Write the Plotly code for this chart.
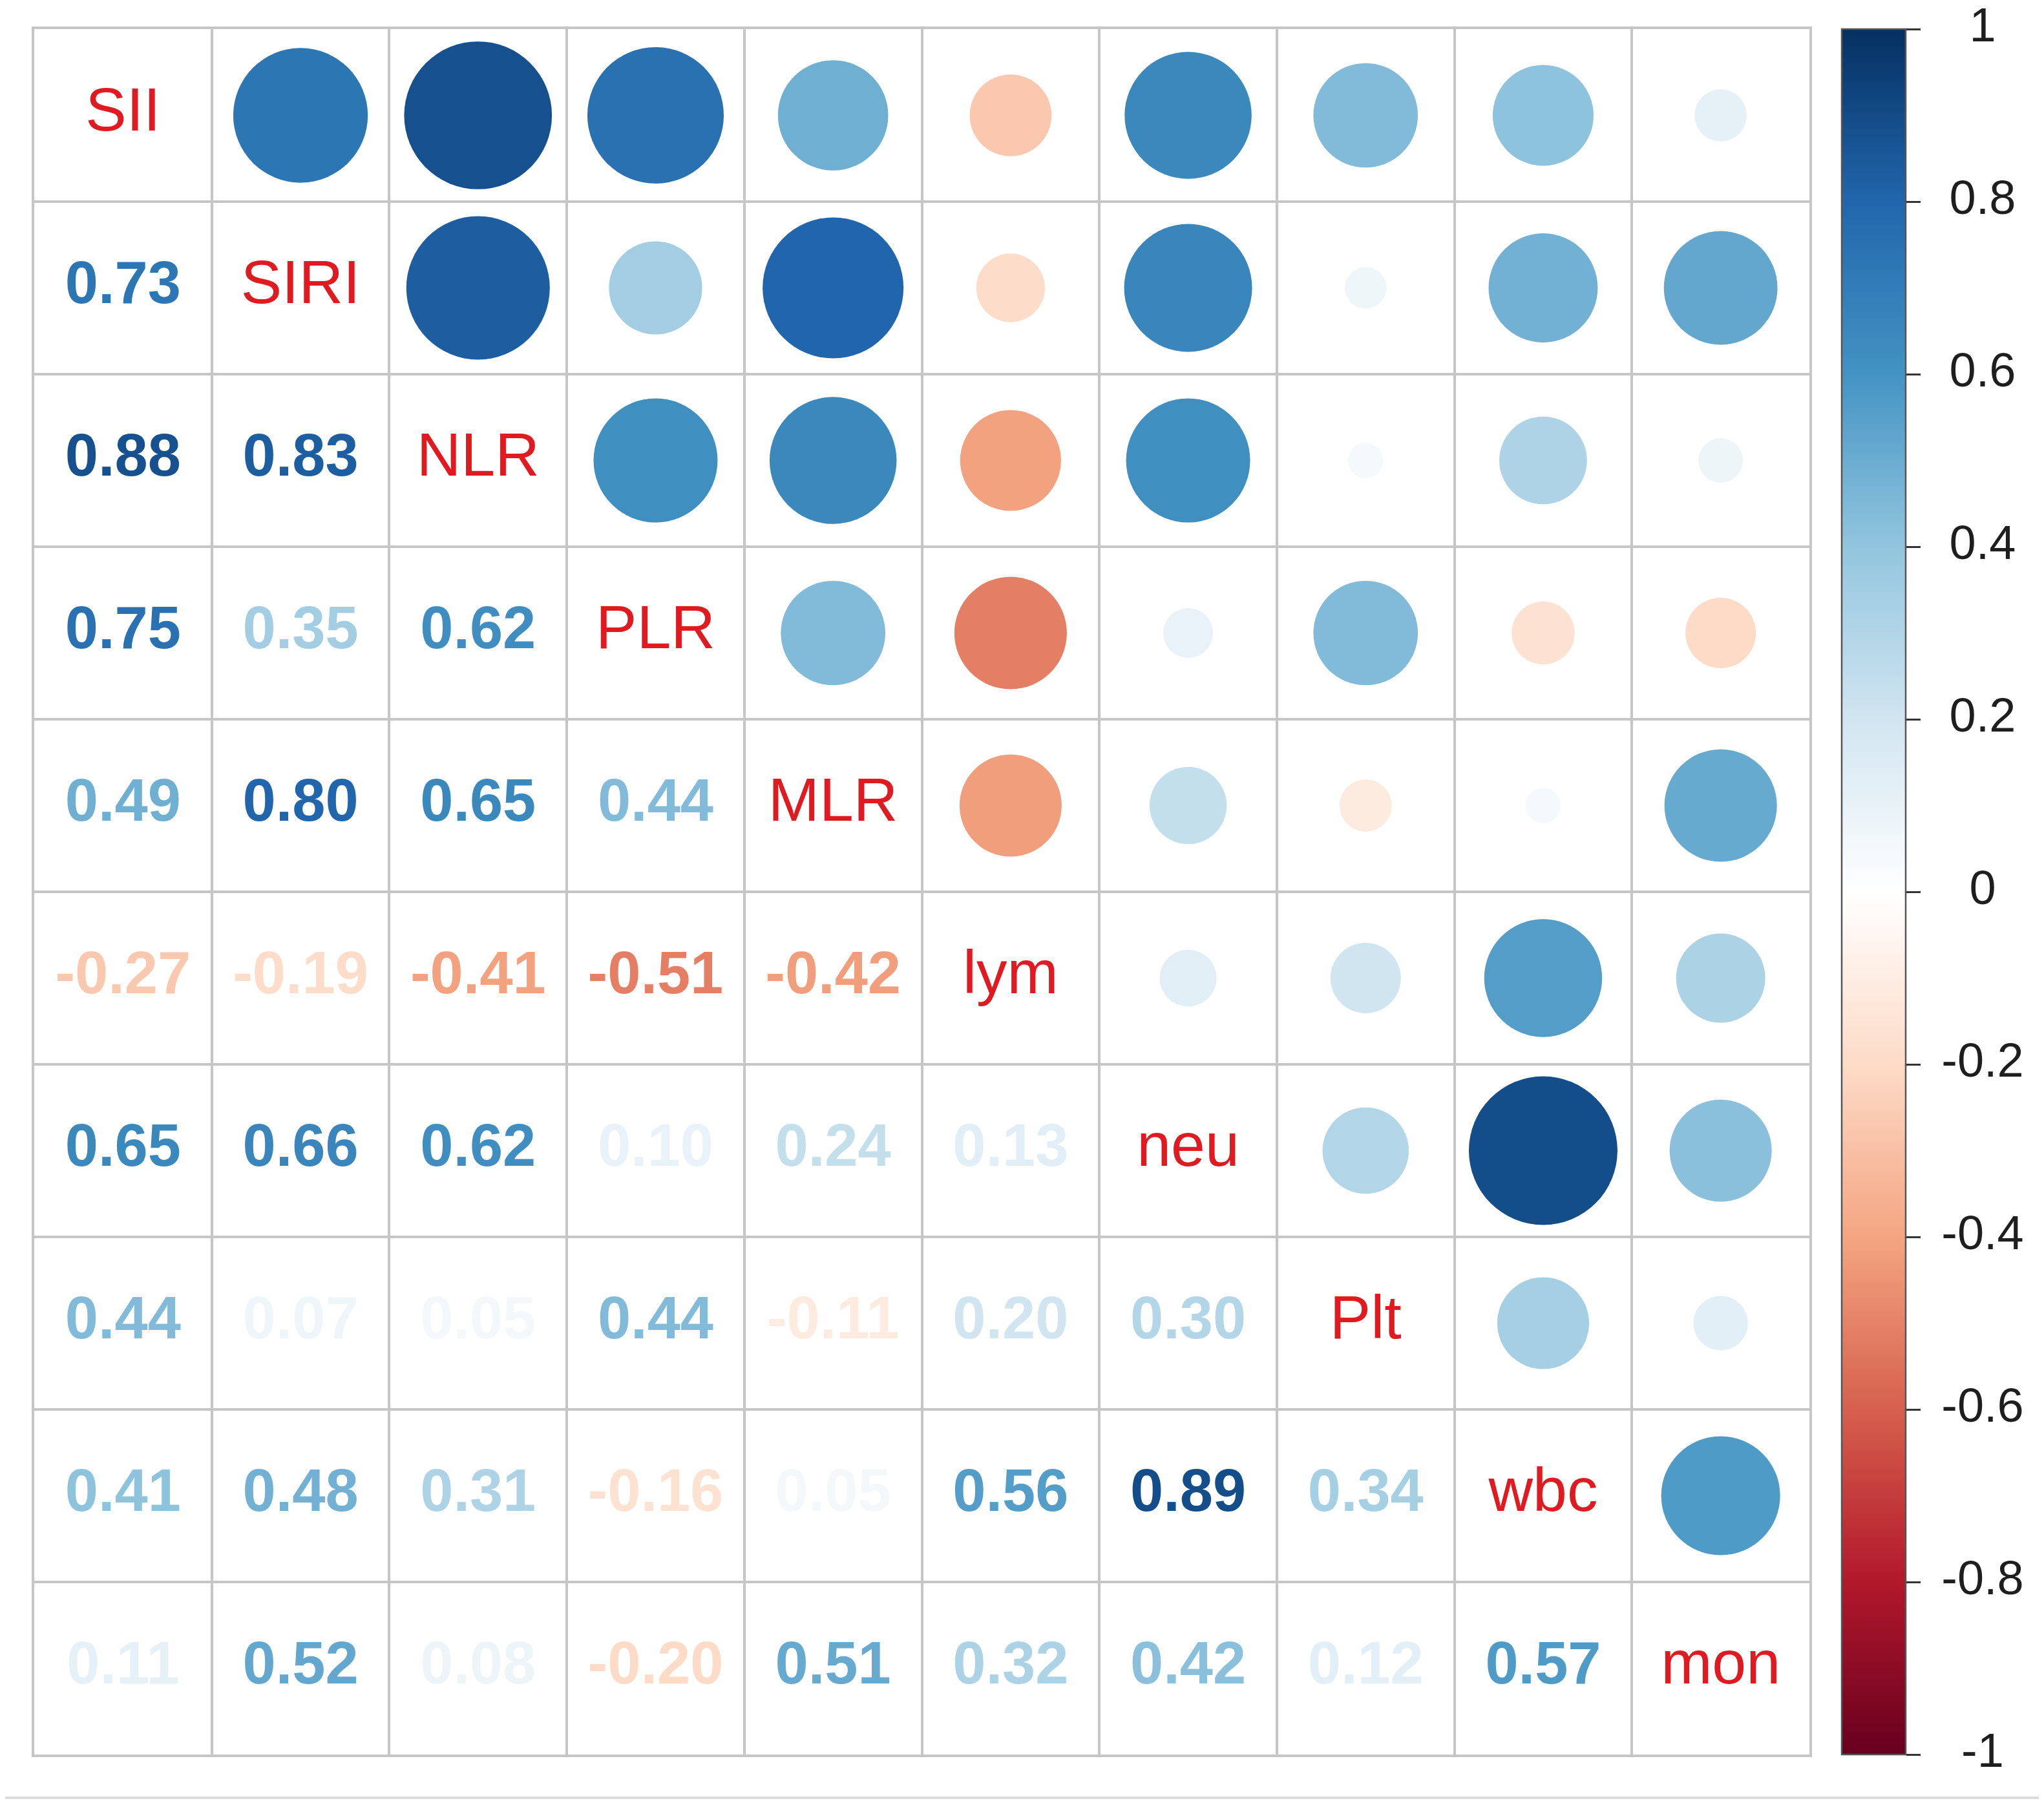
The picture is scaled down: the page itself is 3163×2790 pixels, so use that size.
import numpy as np
import plotly.graph_objects as go

# ---------------- data ----------------
variables = ["SII", "SIRI", "NLR", "PLR", "MLR", "lym", "neu", "Plt", "wbc", "mon"]

# lower-triangle correlations, row by row (row i holds columns 0..i-1)
row_SII = []
row_SIRI = [0.73]
row_NLR = [0.88, 0.83]
row_PLR = [0.75, 0.35, 0.62]
row_MLR = [0.49, 0.80, 0.65, 0.44]
row_lym = [-0.27, -0.19, -0.41, -0.51, -0.42]
row_neu = [0.65, 0.66, 0.62, 0.10, 0.24, 0.13]
row_Plt = [0.44, 0.07, 0.05, 0.44, -0.11, 0.20, 0.30]
row_wbc = [0.41, 0.48, 0.31, -0.16, 0.05, 0.56, 0.89, 0.34]
row_mon = [0.11, 0.52, 0.08, -0.20, 0.51, 0.32, 0.42, 0.12, 0.57]
lower_rows = [row_SII, row_SIRI, row_NLR, row_PLR, row_MLR,
              row_lym, row_neu, row_Plt, row_wbc, row_mon]

colorbar_tickvals = [1, 0.8, 0.6, 0.4, 0.2, 0, -0.2, -0.4, -0.6, -0.8, -1]
colorbar_ticktext = ["1", "0.8", "0.6", "0.4", "0.2", "0",
                     "-0.2", "-0.4", "-0.6", "-0.8", "-1"]

# corrplot RdBu palette (-1 .. 1)
rdbu_hex = ["#67001F", "#B2182B", "#D6604D", "#F4A582", "#FDDBC7", "#FFFFFF",
            "#D1E5F0", "#92C5DE", "#4393C3", "#2166AC", "#053061"]

# ---------------- helpers ----------------
n = len(variables)
M = np.eye(n)
for i, row in enumerate(lower_rows):
    for j, v in enumerate(row):
        M[i, j] = v
        M[j, i] = v

stops = np.linspace(0, 1, len(rdbu_hex))
colorscale = [[float(s), c] for s, c in zip(stops, rdbu_hex)]
rgb = np.array([[int(c[k:k + 2], 16) for k in (1, 3, 5)] for c in rdbu_hex], float)


def val_color(v):
    t = (v + 1) / 2
    r = [np.interp(t, stops, rgb[:, k]) for k in range(3)]
    return "rgb(%d,%d,%d)" % tuple(int(round(x)) for x in r)


# ---------------- geometry ----------------
W, H = 3163, 2790
gx0, gx1 = 45, 2792
gy0, gy1 = 37, 2707
cell_px = ((gx1 - gx0) / n + (gy1 - gy0) / n) / 2

xdom = [gx0 / W, gx1 / W]
ydom = [1 - gy1 / H, 1 - gy0 / H]

FONT = "Liberation Sans, Arial, sans-serif"
GRID = "#C6C6C6"

# upper triangle circles
cx, cy, cval, csize = [], [], [], []
for i in range(n):
    for j in range(i + 1, n):
        v = M[i, j]
        cx.append(j)
        cy.append(i)
        cval.append(v)
        csize.append(0.9 * np.sqrt(abs(v)) * cell_px)

# lower triangle numbers
tx, ty, tt, tc = [], [], [], []
for i in range(n):
    for j in range(i):
        v = M[i, j]
        tx.append(j)
        ty.append(i)
        tt.append("%.2f" % v)
        tc.append(val_color(v))

fig = go.Figure()

fig.add_trace(go.Scatter(
    x=cx, y=cy, mode="markers",
    marker=dict(size=csize, sizemode="diameter", color=cval,
                colorscale=colorscale, cmin=-1, cmax=1, line=dict(width=0),
                opacity=1,
                showscale=True,
                colorbar=dict(
                    x=2842 / W, xanchor="left", xref="paper",
                    y=(ydom[0] + ydom[1]) / 2, yanchor="middle", yref="paper",
                    len=ydom[1] - ydom[0], lenmode="fraction",
                    thickness=99, thicknessmode="pixels",
                    xpad=0, ypad=0,
                    outlinewidth=2.5, outlinecolor="#555555",
                    ticks="outside", ticklen=22, tickwidth=3, tickcolor="#333333",
                    tickvals=colorbar_tickvals, showticklabels=False,
                )),
    hoverinfo="skip", showlegend=False,
))

fig.add_trace(go.Scatter(
    x=tx, y=ty, mode="text", text=tt,
    textposition="middle center",
    textfont=dict(family=FONT, size=92, color=tc, weight="bold"),
    hoverinfo="skip", showlegend=False,
))

fig.add_trace(go.Scatter(
    x=list(range(n)), y=list(range(n)), mode="text", text=variables,
    textposition="middle center",
    textfont=dict(family=FONT, size=95, color="#DF1A20"),
    hoverinfo="skip", showlegend=False,
))

# colorbar labels (centered, like corrplot)
fig.add_trace(go.Scatter(
    x=[0] * len(colorbar_tickvals), y=colorbar_tickvals, mode="text",
    text=colorbar_ticktext, textposition="middle center",
    textfont=dict(family=FONT, size=74, color="#1e1e1e"),
    xaxis="x2", yaxis="y2", cliponaxis=False,
    hoverinfo="skip", showlegend=False,
))

edges = [k - 0.5 for k in range(n + 1)]
axis_common = dict(tickvals=edges, showticklabels=False, ticks="",
                   showgrid=True, gridcolor=GRID, gridwidth=3.5,
                   zeroline=False, showline=True, mirror=True,
                   linecolor=GRID, linewidth=3.5, fixedrange=True)

fig.update_layout(
    width=W, height=H, autosize=False,
    margin=dict(l=0, r=0, t=0, b=0),
    paper_bgcolor="white", plot_bgcolor="white",
    xaxis=dict(range=[-0.5, n - 0.5], domain=xdom, **axis_common),
    yaxis=dict(range=[n - 0.5, -0.5], domain=ydom, **axis_common),
    xaxis2=dict(range=[-1, 1], domain=[2985 / W, 3135 / W], anchor="y2",
                visible=False, fixedrange=True),
    yaxis2=dict(range=[-1, 1], domain=ydom, anchor="x2",
                visible=False, fixedrange=True),
    hovermode=False,
    shapes=[dict(type="line", xref="paper", yref="paper",
                 x0=0, x1=3155 / W, y0=1 - 2774 / H, y1=1 - 2774 / H,
                 line=dict(color="#DCDCDC", width=4))],
)

fig.write_html("out.html")
